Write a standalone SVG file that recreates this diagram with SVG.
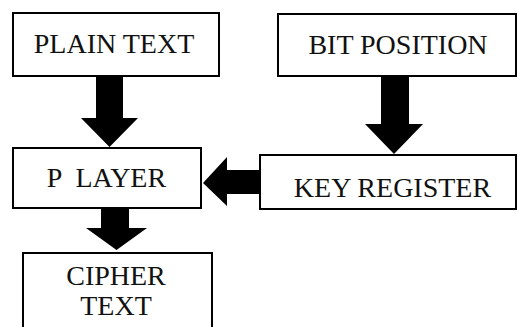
<svg xmlns="http://www.w3.org/2000/svg" width="518" height="327" viewBox="0 0 518 327">
<style>
.box{fill:#fff;stroke:#000;stroke-width:2}
.lbl{font-family:'Liberation Serif','Times New Roman',serif;font-size:28px;fill:#111;text-anchor:middle}
.arr{fill:#000;stroke:none}
</style>
<rect width="518" height="327" fill="#fff"/>
<g id="connectors">
<polygon class="arr" points="96,77 123,77 123,118 138,118 109.5,147 81,118 96,118"/>
<polygon class="arr" points="381,76 409,76 409,124 423,124 394,154 365,124 381,124"/>
<polygon class="arr" points="101,209 129,209 129,228 147,228 116.5,250 86,228 101,228"/>
<polygon class="arr" points="260,170 260,194 227,194 227,206 203,183 227,157 227,170"/>
</g>
<g id="plain-text">
<rect class="box" x="13" y="13" width="206" height="63"/>
<text class="lbl" x="114" y="53">PLAIN TEXT</text>
</g>
<g id="bit-position">
<rect class="box" x="278" y="14" width="238" height="62"/>
<text class="lbl" x="398" y="54">BIT POSITION</text>
</g>
<g id="p-layer">
<rect class="box" x="13" y="148" width="188" height="60"/>
<text class="lbl" x="106.5" y="187" xml:space="preserve">P  LAYER</text>
</g>
<g id="key-register">
<rect class="box" x="260" y="155" width="256" height="54"/>
<text class="lbl" x="392.5" y="197">KEY REGISTER</text>
</g>
<g id="cipher-text">
<rect class="box" x="23" y="253" width="189" height="90"/>
<text class="lbl" x="116" y="285">CIPHER</text>
<text class="lbl" x="116" y="315">TEXT</text>
</g>
</svg>
